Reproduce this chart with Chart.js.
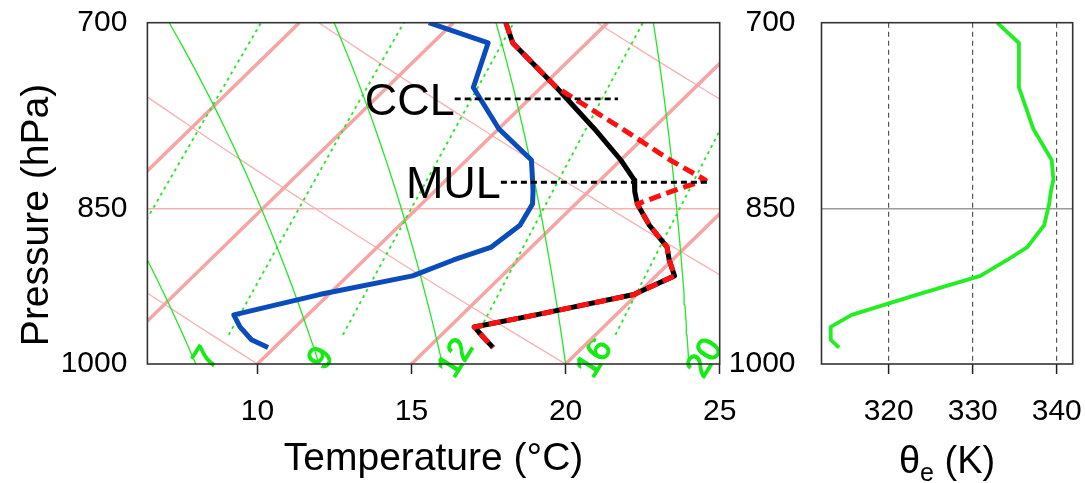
<!DOCTYPE html>
<html lang="en">
<head>
<meta charset="UTF-8">
<title>Skew-T sounding and theta-e profile</title>
<script src="https://cdn.jsdelivr.net/npm/chart.js"></script>
<style>
  body { margin: 0; background: #fff; }
  #wrap { position: relative; width: 1085px; height: 483px; }
  #skewBox { position: absolute; left: 0; top: 0; width: 740px; height: 483px; }
  #thetaBox { position: absolute; left: 720px; top: 0; width: 365px; height: 483px; }
</style>
</head>
<body>
<div id="wrap">
  <div id="skewBox"><canvas id="skewChart"></canvas></div>
  <div id="thetaBox"><canvas id="thetaChart"></canvas></div>
</div>
<script>
// sounding levels (hPa) and profiles
const pressureLevels = [700, 715, 749, 782, 808, 825, 835, 846, 865, 885, 897, 912, 930, 950, 962, 975, 983];
const temperature = [6.7, 7.6, 10.5, 13.1, 15.0, 16.1, 16.5, 17.0, 18.1, 19.4, 19.9, 20.6, 19.9, 17.4, 15.8, 16.6, 17.1];
const modifiedTemperature = [6.7, 7.6, 10.5, 14.0, 16.6, 18.4, 17.7, 17.0, 18.1, 19.4, 19.9, 20.6, 19.9, 17.4, 15.8, 16.6, 17.1];
const dewpoint = [4.2, 6.8, 7.8, 10.0, 12.1, 12.8, 13.2, 13.6, 13.9, 13.7, 12.9, 12.1, 9.7, 7.6, 8.2, 9.0, 9.8];
const thetaE = [332.9, 335.5, 335.5, 337.2, 339.4, 339.6, 339.3, 339.1, 338.5, 336.5, 334.1, 330.9, 323.4, 315.6, 313.1, 313.1, 314.1];

// CCL / MUL markers (pressure, start/end on the temperature axis)
const cclPressure = 758;
const cclSpan = [16.4, 21.7];
const mulPressure = 827;
const mulSpan = [17.9, 24.6];

// background lines of the diagram
const isotherms = [0, 5, 10, 15, 20, 25];
const dryAdiabats = [10, 20, 30, 40];
const moistAdiabats = [8, 12, 16, 20, 24];
const mixingRatios = [5, 7, 9, 12, 16, 20];

const tempTicks = [10, 15, 20, 25];
const pressureTicks = [700, 850, 1000];
const thetaTicks = [320, 330, 340];

const fontFamily = '"Liberation Sans", Arial, Helvetica, sans-serif';
Chart.defaults.font.family = fontFamily;
Chart.defaults.color = '#000';

const SKEW = 31.85;
const skewX = (t, p) => t + SKEW * Math.log(1000 / p);

function satVap(t) { return 6.112 * Math.exp(17.67 * t / (t + 243.5)); }
function mixingTd(w, p) {
  const e = (w / 1000) * p / (0.622 + w / 1000);
  const l = Math.log(e / 6.112);
  return 243.5 * l / (17.67 - l);
}
function moistLapse(t, p) {
  const T = t + 273.15;
  const es = satVap(t);
  const rs = 0.622 * es / (p - es);
  const num = 287.04 * T + 2.501e6 * rs;
  const den = 1005.7 + 2.501e6 * 2.501e6 * rs * 0.622 / (287.04 * T * T);
  return num / den / p;
}

const bgLevels = [];
for (let p = 1000; p >= 700; p -= 10) bgLevels.push(p);

function lineSet(points, color, width, dash, order) {
  return {
    data: points, showLine: true, borderColor: color, borderWidth: width,
    borderDash: dash || [], pointRadius: 0, tension: 0, clip: 0, order: order,
    borderJoinStyle: 'round'
  };
}

const datasets = [];
isotherms.forEach(t => {
  datasets.push(lineSet([{ x: skewX(t, 1000), y: 1000 }, { x: skewX(t, 700), y: 700 }], '#f6a5a5', 3.5, null, 20));
});
dryAdiabats.forEach(th => {
  const pts = bgLevels.map(p => ({ x: skewX((th + 273.15) * Math.pow(p / 1000, 0.2857) - 273.15, p), y: p }));
  datasets.push(lineSet(pts, '#f6b2b2', 1.3, null, 21));
});
mixingRatios.forEach(w => {
  const pts = bgLevels.filter(p => p <= 970).map(p => ({ x: skewX(mixingTd(w, p), p), y: p }));
  pts.unshift({ x: skewX(mixingTd(w, 970), 970), y: 970 });
  datasets.push(lineSet(pts, '#22e822', 1.8, [3, 4], 19));
});
moistAdiabats.forEach(tw => {
  const pts = [];
  let t = tw, p = 1000;
  const step = -2;
  while (p >= 700) {
    if (Math.round(p) % 10 === 0) pts.push({ x: skewX(t, p), y: p });
    const k1 = moistLapse(t, p);
    const k2 = moistLapse(t + k1 * step / 2, p + step / 2);
    t += k2 * step;
    p += step;
  }
  datasets.push(lineSet(pts, '#22e822', 1.3, null, 18));
});

datasets.push(lineSet(pressureLevels.map((p, i) => ({ x: skewX(dewpoint[i], p), y: p })), '#0b4cbd', 5, null, 3));
datasets.push(lineSet(pressureLevels.map((p, i) => ({ x: skewX(temperature[i], p), y: p })), '#000000', 5, null, 2));
datasets.push(lineSet(pressureLevels.map((p, i) => ({ x: skewX(modifiedTemperature[i], p), y: p })), '#ff1010', 5, [12, 6], 1));
datasets.push(lineSet([{ x: cclSpan[0], y: cclPressure }, { x: cclSpan[1], y: cclPressure }], '#000', 2.8, [6, 4], 0));
datasets.push(lineSet([{ x: mulSpan[0], y: mulPressure }, { x: mulSpan[1], y: mulPressure }], '#000', 2.8, [6, 4], 0));

function noPad(s) { s.paddingLeft = 0; s.paddingRight = 0; s.paddingTop = 0; s.paddingBottom = 0; }

function drawFrame(chart) {
  const { ctx, chartArea: a } = chart;
  ctx.save();
  ctx.strokeStyle = '#333';
  ctx.lineWidth = 1.6;
  ctx.strokeRect(a.left, a.top, a.right - a.left, a.bottom - a.top);
  ctx.restore();
}

const skewDecor = {
  id: 'skewDecor',
  beforeDatasetsDraw(chart) {
    const { ctx, chartArea: a, scales: { x, y } } = chart;
    ctx.save();
    ctx.beginPath();
    ctx.rect(a.left, 0, a.right - a.left, chart.height);
    ctx.clip();
    ctx.fillStyle = '#14ec14';
    ctx.strokeStyle = '#14ec14';
    ctx.lineWidth = 1.2;
    ctx.font = '34px ' + fontFamily;
    ctx.textAlign = 'center';
    ctx.textBaseline = 'alphabetic';
    mixingRatios.forEach(w => {
      const px = x.getPixelForValue(skewX(mixingTd(w, 1000), 1000)) - 8;
      if (px < a.left) return;
      ctx.save();
      ctx.translate(px, y.getPixelForValue(1000) - 7);
      ctx.rotate(-58 * Math.PI / 180);
      ctx.fillText(String(w), 0, 12);
      ctx.strokeText(String(w), 0, 12);
      ctx.restore();
    });
    ctx.restore();
  },
  afterDatasetsDraw(chart) {
    const { ctx, scales: { x, y } } = chart;
    drawFrame(chart);
    ctx.save();
    ctx.fillStyle = '#000';
    ctx.font = '45px ' + fontFamily;
    ctx.textAlign = 'right';
    ctx.textBaseline = 'alphabetic';
    ctx.fillText('CCL', x.getPixelForValue(cclSpan[0]), y.getPixelForValue(cclPressure) + 16);
    ctx.fillText('MUL', x.getPixelForValue(mulSpan[0]), y.getPixelForValue(mulPressure) + 16);
    ctx.font = '39px ' + fontFamily;
    ctx.textAlign = 'center';
    ctx.translate(48, 215);
    ctx.rotate(-Math.PI / 2);
    ctx.fillText('Pressure (hPa)', 0, 0);
    ctx.restore();
  }
};

// theta-e panel: frame plus the axis title with a real subscript
const thetaDecor = {
  id: 'thetaDecor',
  afterDatasetsDraw(chart) {
    const { ctx, chartArea: a } = chart;
    drawFrame(chart);
    ctx.save();
    ctx.fillStyle = '#000';
    ctx.textBaseline = 'alphabetic';
    ctx.textAlign = 'left';
    const big = '38px ' + fontFamily, small = '25px ' + fontFamily;
    ctx.font = big;
    const wTheta = ctx.measureText('θ').width;
    const wRest = ctx.measureText(' (K)').width;
    ctx.font = small;
    const wSub = ctx.measureText('e').width;
    const total = wTheta + wSub + wRest;
    let x0 = (a.left + a.right) / 2 - total / 2;
    const base = 473;
    ctx.font = big;
    ctx.fillText('θ', x0, base);
    ctx.font = small;
    ctx.fillText('e', x0 + wTheta, base + 8);
    ctx.font = big;
    ctx.fillText(' (K)', x0 + wTheta + wSub, base);
    ctx.restore();
  }
};

new Chart(document.getElementById('skewChart'), {
  type: 'scatter',
  data: { datasets: datasets },
  options: {
    responsive: true, maintainAspectRatio: false, animation: false,
    layout: { padding: { top: 22.7, right: 20.3, bottom: 0, left: 0 } },
    plugins: { legend: { display: false }, tooltip: { enabled: false } },
    scales: {
      x: {
        type: 'linear', min: 6.43, max: 25,
        afterBuildTicks: s => { s.ticks = tempTicks.map(v => ({ value: v })); },
        afterFit: s => { s.height = 119; noPad(s); },
        ticks: { font: { size: 30 }, padding: 20, maxRotation: 0 },
        grid: { drawOnChartArea: false, tickLength: 10, tickColor: '#222', tickWidth: 1.5, color: '#222' },
        border: { display: false },
        title: { display: true, text: 'Temperature (°C)', font: { size: 39 }, padding: 0 }
      },
      y: {
        type: 'logarithmic', min: 700, max: 1000, reverse: true,
        afterBuildTicks: s => { s.ticks = pressureTicks.map(v => ({ value: v })); },
        afterFit: s => { s.width = 147.4; noPad(s); },
        ticks: { font: { size: 30 }, padding: 20, callback: v => String(v) },
        grid: {
          drawTicks: false, lineWidth: 1.5,
          color: c => (c.tick && c.tick.value === 850) ? '#f6b2b2' : 'rgba(0,0,0,0)'
        },
        border: { display: false }
      }
    }
  },
  plugins: [skewDecor]
});

new Chart(document.getElementById('thetaChart'), {
  type: 'scatter',
  data: {
    datasets: [lineSet(pressureLevels.map((p, i) => ({ x: thetaE[i], y: p })), '#22ee22', 3.8, null, 0)]
  },
  options: {
    responsive: true, maintainAspectRatio: false, animation: false,
    layout: { padding: { top: 22.7, right: 12.3, bottom: 0, left: 0 } },
    plugins: { legend: { display: false }, tooltip: { enabled: false } },
    scales: {
      x: {
        type: 'linear', min: 312, max: 341.9,
        afterBuildTicks: s => { s.ticks = thetaTicks.map(v => ({ value: v })); },
        afterFit: s => { s.height = 119; noPad(s); },
        ticks: { font: { size: 30 }, padding: 20, maxRotation: 0 },
        grid: { color: '#555', lineWidth: 1.2, tickLength: 10, tickColor: '#222', tickWidth: 1.5 },
        border: { display: false, dash: [5, 4] }
      },
      y: {
        type: 'logarithmic', min: 700, max: 1000, reverse: true,
        afterBuildTicks: s => { s.ticks = pressureTicks.map(v => ({ value: v })); },
        afterFit: s => { s.width = 101.5; noPad(s); },
        ticks: { font: { size: 30 }, padding: 26, callback: v => String(v) },
        grid: {
          drawTicks: false, lineWidth: 1.5,
          color: c => (c.tick && c.tick.value === 850) ? '#999' : 'rgba(0,0,0,0)'
        },
        border: { display: false }
      }
    }
  },
  plugins: [thetaDecor]
});
</script>
</body>
</html>
